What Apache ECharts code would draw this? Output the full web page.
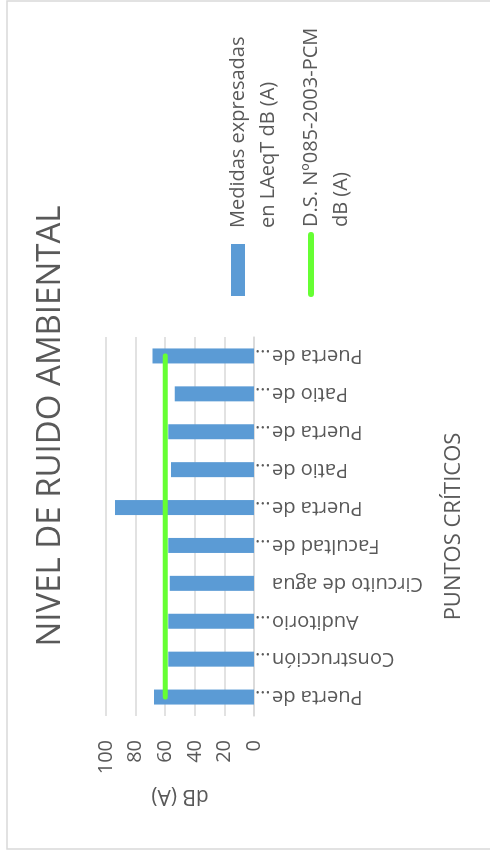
<!DOCTYPE html>
<html>
<head>
<meta charset="utf-8">
<script src="https://cdn.jsdelivr.net/npm/echarts@6/dist/echarts.min.js"></script>
<style>
  html, body { margin: 0; padding: 0; background: #fff; overflow: hidden; }
  #wrap { width: 490px; height: 852px; position: relative; overflow: hidden; }
  /* the chart is laid out landscape and turned a quarter turn counter-clockwise */
  #chart {
    width: 852px; height: 490px;
    position: absolute; left: 0; top: 0;
    transform-origin: 0 0;
    transform: translateY(852px) rotate(-90deg);
  }
</style>
</head>
<body>
<div id="wrap"><div id="chart"></div></div>
<script>
// Measurement points, in order along the category axis
const categories = [
  'Puerta de…', 'Construcción…', 'Auditorio…', 'Circuito de agua', 'Facultad de…',
  'Puerta de…', 'Patio de…', 'Puerta de…', 'Patio de…', 'Puerta de…'
];
// Measured levels, LAeqT dB (A)
const measured = [67.5, 58, 58, 57, 58, 94, 56, 58, 53.5, 68.5];
// Standard limit, D.S. Nº085-2003-PCM dB (A)
const limit = [60, 60, 60, 60, 60, 60, 60, 60, 60, 60];
// Value axis ticks
const valueTicks = [0, 20, 40, 60, 80, 100];

const seriesNames = ['Medidas expresadas en LAeqT dB (A)', 'D.S. Nº085-2003-PCM dB (A)'];
const legendLines = {
  'Medidas expresadas en LAeqT dB (A)': ['Medidas expresadas', 'en LAeqT dB (A)'],
  'D.S. Nº085-2003-PCM dB (A)': ['D.S. Nº085-2003-PCM', 'dB (A)']
};

const FONT = '"Open Sans", "Noto Sans", sans-serif';
const TEXT = '#595959';
const GRID = '#d9d9d9';
const BAR = '#5b9bd5';
const LIMIT = '#66ff33';

const chart = echarts.init(document.getElementById('chart'), null, { renderer: 'canvas' });

// A leading empty line keeps the first text line level with the key
const legendFormatter = n => '\n' + legendLines[n].join('\n');
const legendText = (padLeft) => ({
  fontFamily: FONT, fontSize: 20, color: TEXT, lineHeight: 30,
  padding: [0, 0, 0, padLeft]
});

chart.setOption({
  animation: false,
  backgroundColor: '#fff',
  title: {
    text: 'NIVEL DE RUIDO AMBIENTAL',
    left: 'center',
    top: 29,
    textStyle: { fontFamily: FONT, fontSize: 33, fontWeight: 'normal', color: TEXT }
  },
  graphic: [{
    type: 'rect',
    shape: { x: 3, y: 7, width: 848, height: 500 },
    style: { fill: 'none', stroke: GRID, lineWidth: 1.5 },
    silent: true
  }],
  legend: [
    {
      data: [seriesNames[0]],
      left: 556, top: 193, padding: 0,
      icon: 'rect',
      itemWidth: 52, itemHeight: 14,
      selectedMode: false,
      formatter: legendFormatter,
      textStyle: legendText(11)
    },
    {
      data: [seriesNames[1]],
      left: 555, top: 266, padding: 0,
      // rounded stroke key for the limit line
      icon: 'path://M3,0 L62,0 A3,3 0 0 1 62,6 L3,6 A3,3 0 0 1 3,0 Z',
      itemWidth: 65, itemHeight: 6,
      selectedMode: false,
      formatter: legendFormatter,
      textStyle: legendText(0)
    }
  ],
  grid: { left: 136, right: 337, top: 106, bottom: 236 },
  xAxis: {
    type: 'category',
    data: categories,
    axisLine: { lineStyle: { color: GRID, width: 1.5 } },
    axisTick: { length: 8, interval: 0, lineStyle: { color: GRID, width: 1.5 } },
    axisLabel: {
      rotate: 90, margin: 1, interval: 0,
      fontFamily: FONT, fontSize: 20, color: TEXT,
      formatter: v => v.endsWith('…')
        ? '{t|' + v.slice(0, -1) + '}{e|…}'
        : '{t|' + v + '}{e| }',
      rich: {
        t: { fontFamily: FONT, fontSize: 20, color: TEXT },
        e: { fontFamily: FONT, fontSize: 20, color: TEXT, width: 17 }
      }
    },
    name: 'PUNTOS CRÍTICOS',
    nameLocation: 'middle',
    nameGap: 189,
    nameTextStyle: { fontFamily: FONT, fontSize: 22, color: TEXT }
  },
  yAxis: {
    type: 'value',
    min: valueTicks[0],
    max: valueTicks[valueTicks.length - 1],
    interval: valueTicks[1] - valueTicks[0],
    axisLine: { show: false },
    axisTick: { show: false },
    splitLine: { lineStyle: { color: GRID, width: 1.5 } },
    axisLabel: { margin: 24, fontFamily: FONT, fontSize: 20, color: TEXT },
    name: 'dB (A)',
    nameLocation: 'middle',
    nameRotate: 90,
    nameGap: 69,
    nameTextStyle: { fontFamily: FONT, fontSize: 21, color: TEXT }
  },
  series: [
    {
      name: seriesNames[0],
      type: 'bar',
      data: measured,
      barWidth: 15,
      itemStyle: { color: BAR }
    },
    {
      name: seriesNames[1],
      type: 'line',
      data: limit,
      symbol: 'none',
      itemStyle: { color: LIMIT },
      lineStyle: { color: LIMIT, width: 5, cap: 'round' }
    }
  ]
});
</script>
</body>
</html>
